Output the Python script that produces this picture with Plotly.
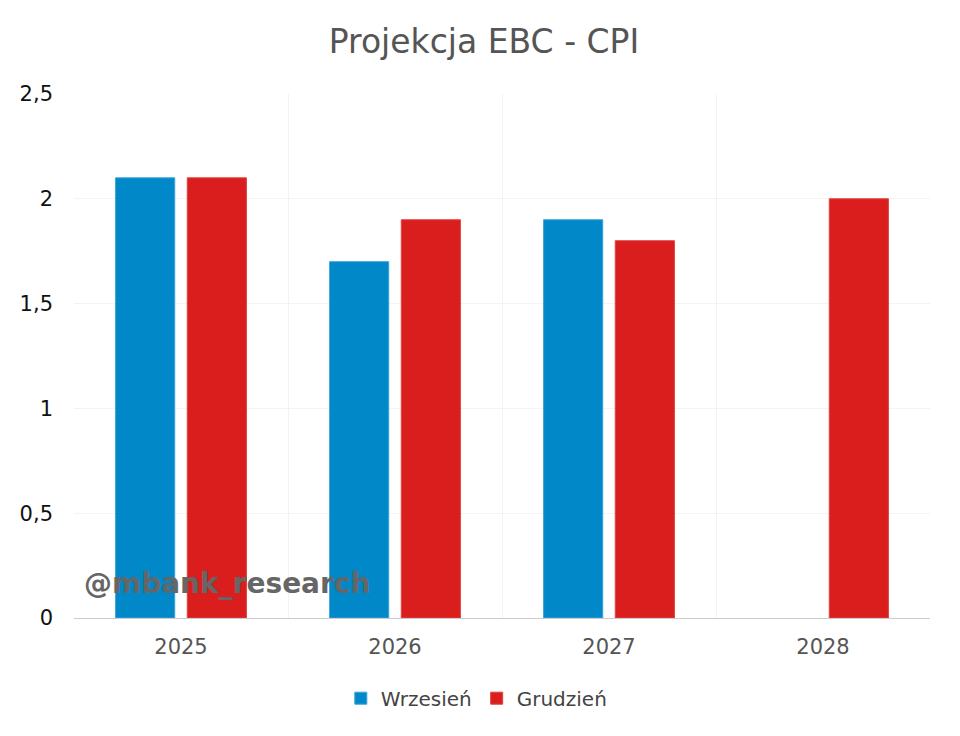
import plotly.graph_objects as go

categories = ["2025", "2026", "2027", "2028"]
wrzesien = [2.1, 1.7, 1.9, None]
grudzien = [2.1, 1.9, 1.8, 2.0]
y_ticks = [0, 0.5, 1, 1.5, 2, 2.5]

FONT = "DejaVu Sans, Verdana, sans-serif"

fig = go.Figure()
fig.add_trace(go.Bar(x=categories, y=wrzesien, name="Wrzesień",
                     marker=dict(color="#0088C9", line=dict(color="#3AA3DA", width=1))))
fig.add_trace(go.Bar(x=categories, y=grudzien, name="Grudzień",
                     marker=dict(color="#DA1E1E", line=dict(color="#E0403F", width=1))))
# invisible trace on linear axis for category-boundary gridlines
fig.add_trace(go.Scatter(x=[-0.5, 3.5], y=[0, 0], xaxis="x2", mode="markers",
                         marker=dict(opacity=0), showlegend=False, hoverinfo="skip"))

fig.update_layout(
    width=952, height=728,
    paper_bgcolor="white", plot_bgcolor="white",
    separators=", ",
    font=dict(family=FONT, color="#555555"),
    title=dict(text="Projekcja EBC - CPI", x=0.5, xanchor="center", y=0.954, yanchor="middle",
               font=dict(size=33, color="#555555", family=FONT)),
    margin=dict(l=66, r=30, t=86, b=118),
    barmode="group", bargap=0.33, bargroupgap=0.175,
    xaxis=dict(type="category", showgrid=False, showline=True, linecolor="#CCCCCC", linewidth=1,
               tickfont=dict(size=21, color="#555555"), ticks="", ticklabelstandoff=10),
    xaxis2=dict(overlaying="x", type="linear", range=[-0.5, 3.5],
                tickvals=[-0.5, 0.5, 1.5, 2.5, 3.5], showticklabels=False,
                showgrid=True, gridcolor="#F3F3F3", gridwidth=1, zeroline=False, layer="below traces"),
    yaxis=dict(range=[0, 2.5], tickvals=y_ticks, showgrid=True, gridcolor="#F3F3F3",
               zeroline=False, tickfont=dict(size=21, color="#111111"), ticklabelstandoff=20),
    legend=dict(orientation="h", x=0.47, xanchor="center", y=-0.153, yanchor="middle",
                font=dict(size=20, color="#444444"), itemwidth=30, traceorder="normal"),
    annotations=[dict(text="<b>@mbank_research</b>", xref="paper", yref="paper",
                      x=0.009, y=0.065, xanchor="left", yanchor="middle", showarrow=False,
                      font=dict(size=28, color="#666666", family=FONT))],
)

fig.write_html("out.html")
